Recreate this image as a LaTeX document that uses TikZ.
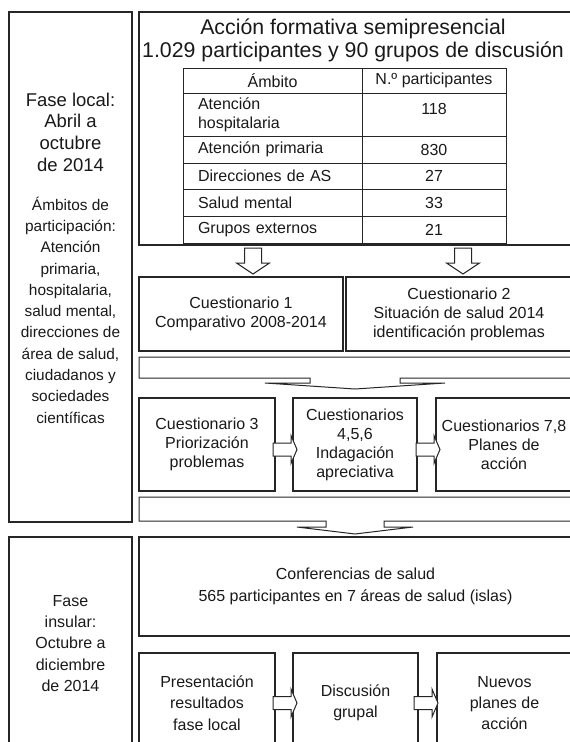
\documentclass[tikz,border=0pt]{standalone}
\usepackage{fontspec}
\setmainfont{Liberation Sans}
\usetikzlibrary{positioning,calc}
\tikzset{
  caja/.style={rectangle, draw=black!85, line width=1.2pt, outer sep=0pt, align=center, anchor=north west, font=\fontsize{16}{19}\selectfont, text=black!90},
  fase/.style={caja, font=\fontsize{16}{21.4}\selectfont},
  celda/.style={rectangle, draw=black!85, line width=1pt, outer sep=0pt, align=center, font=\fontsize{16}{19}\selectfont, text=black!90},
  celdanom/.style={celda, text width=149pt, inner xsep=15pt, align=left},
  celdanum/.style={celda, minimum width=144pt},
  flecha/.style={draw=black!85, line width=1pt, fill=white},
  abajo/.pic={\path[flecha] (-8.5,-26) -- (8.5,-26) -- (8.5,-11) -- (16.5,-11) -- (0,0) -- (-16.5,-11) -- (-8.5,-11) -- cycle;},
  derecha/.pic={\path[flecha] (0,-6.5) -- (18,-6.5) -- (18,-14) -- (24,0) -- (18,14) -- (18,6.5) -- (0,6.5) -- cycle;}
}
\begin{document}
\begin{tikzpicture}[x=1pt, y=-1pt]
  \useasboundingbox (0,0) rectangle (570,742);
  \clip (0,0) rectangle (570,742);

  % fase local
  \node[caja, minimum width=123, minimum height=510] (local) at (9,12) {};
  \node[font=\fontsize{18.5}{21.7}\selectfont, align=center, text=black!90] (localtxt) at (70.5,132) {Fase local:\\Abril a\\octubre\\de 2014};
  \node[font=\fontsize{15.4}{21.3}\selectfont, align=center, text=black!90] (ambitos) at (70.5,310) {Ámbitos de\\participación:\\Atención\\primaria,\\hospitalaria,\\salud mental,\\direcciones de\\área de salud,\\ciudadanos y\\sociedades\\científicas};

  \node[caja, minimum width=433, minimum height=233] (accion) at (139,12) {};
  \node[font=\fontsize{21.3}{22.5}\selectfont, align=center, text=black!90] (titulo) at (353,40.5) {Acción formativa semipresencial\\1.029 participantes y 90 grupos de discusión};

  % tabla
  \node[celda, minimum width=179, minimum height=25, anchor=north west] (hdra) at (183,68) {Ámbito};
  \node[celdanum, minimum height=25, right=0pt of hdra] (hdrb) {N.º participantes};
  \node[celdanom, minimum height=43, below=0pt of hdra] (hosa) {Atención\\hospitalaria};
  \node[celdanum, minimum height=43, text depth=12pt, right=0pt of hosa] (hosb) {118};
  \node[celdanom, minimum height=27, below=0pt of hosa] (pria) {Atención primaria};
  \node[celdanum, minimum height=27, right=0pt of pria] (prib) {830};
  \node[celdanom, minimum height=26, below=0pt of pria] (dira) {Direcciones de AS};
  \node[celdanum, minimum height=26, right=0pt of dira] (dirb) {27};
  \node[celdanom, minimum height=27, below=0pt of dira] (mena) {Salud mental};
  \node[celdanum, minimum height=27, right=0pt of mena] (menb) {33};
  \node[celdanom, minimum height=27, below=0pt of mena] (exta) {Grupos externos};
  \node[celdanum, minimum height=27, right=0pt of exta] (extb) {21};

  % cuestionarios
  \node[caja, minimum width=204, minimum height=74] (c1) at (139,277) {Cuestionario 1\\Comparativo 2008-2014};
  \node[caja, minimum width=226, minimum height=74] (c2) at (346,277) {Cuestionario 2\\Situación de salud 2014\\identificación problemas};
  \node[caja, minimum width=136, minimum height=93] (c3) at (139,398) {Cuestionario 3\\Priorización\\problemas};
  \node[caja, minimum width=124, minimum height=93] (c456) at (293,398) {Cuestionarios\\4,5,6\\Indagación\\apreciativa};
  \node[caja, minimum width=136, minimum height=93] (c78) at (436,398) {Cuestionarios 7,8\\Planes de\\acción};

  % fase insular
  \node[fase, minimum width=123, minimum height=213] (insular) at (9,537) {Fase\\insular:\\Octubre a\\diciembre\\de 2014};
  \node[fase, minimum width=433, minimum height=99] (conf) at (139,537) {Conferencias de salud\\565 participantes en 7 áreas de salud (islas)};
  \node[fase, minimum width=136, minimum height=100] (pres) at (139,653) {Presentación\\resultados\\fase local};
  \node[fase, minimum width=125, minimum height=100] (disc) at (293,653) {Discusión\\grupal};
  \node[fase, minimum width=135, minimum height=100] (nuevos) at (437,653) {Nuevos\\planes de\\acción};

  % flechas
  \pic at ([xshift=12pt,yshift=3pt]c1.north) {abajo};
  \pic at ([xshift=4pt,yshift=3pt]c2.north) {abajo};
  \draw[flecha] (139,357) -- (572,357) -- (572,378) -- (400,378) -- (400,383) -- (445,383) -- (355,389) -- (265,383) -- (310,383) -- (310,378) -- (139,378) -- cycle;
  \pic at ([xshift=-2pt,yshift=-5pt]c3.east) {derecha};
  \pic at ([xshift=-1pt,yshift=-5pt]c456.east) {derecha};
  \draw[flecha] (139,497) -- (572,497) -- (572,521) -- (384,521) -- (384,527) -- (413,527) -- (355,534) -- (297,527) -- (326,527) -- (326,521) -- (139,521) -- cycle;
  \pic at ([xshift=-2pt]pres.east) {derecha};
  \pic at ([xshift=-4pt]disc.east) {derecha};
\end{tikzpicture}
\end{document}
